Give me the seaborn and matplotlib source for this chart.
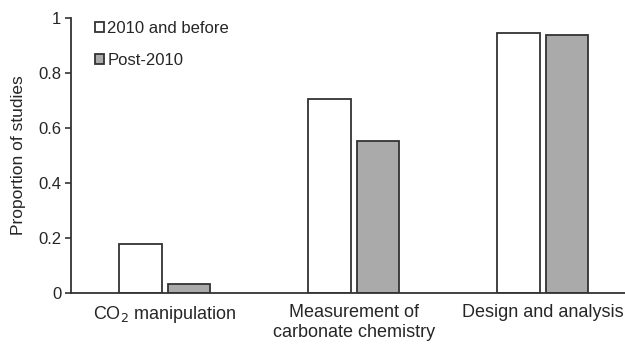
import pandas as pd
import numpy as np
import matplotlib.pyplot as plt
import seaborn as sns

# Dados
categories = ['CO$_2$ manipulation', 'Measurement of\ncarbonate chemistry', 'Design and analysis']
before_2010 = [0.179, 0.707, 0.944]
post_2010 = [0.033, 0.553, 0.939]
periods = ['2010 and before', 'Post-2010']

df = pd.DataFrame({
    'category': categories * 2,
    'proportion': before_2010 + post_2010,
    'period': [periods[0]] * 3 + [periods[1]] * 3,
})

sns.set_style('white')
plt.rcParams['font.family'] = ['Liberation Sans', 'DejaVu Sans']

fig = plt.figure(figsize=(6.25, 3.44), dpi=100)
ax = fig.add_axes([0.1136, 0.148, 0.8864, 0.8])

sns.barplot(data=df, x='category', y='proportion', hue='period',
            palette={periods[0]: 'white', periods[1]: '#aaaaaa'},
            edgecolor='#333333', linewidth=1.3, width=0.51, gap=0.12, ax=ax)

ax.set_xlim(-0.496, 2.435)
ax.set_ylim(0, 1)
ax.set_yticks([0, 0.2, 0.4, 0.6, 0.8, 1])
ax.set_yticklabels(['0', '0.2', '0.4', '0.6', '0.8', '1'], fontsize=12)
ax.tick_params(axis='y', direction='out', length=4, width=1.2, color='#333333', left=True, pad=3)
ax.tick_params(axis='x', length=0, labelsize=13, pad=8)
ax.set_xlabel('')
ax.set_ylabel('Proportion of studies', fontsize=12.5, labelpad=9)

sns.despine(ax=ax)
for s in ['left', 'bottom']:
    ax.spines[s].set_color('#333333')
    ax.spines[s].set_linewidth(1.3)

ax.legend(loc='upper left', bbox_to_anchor=(0.016, 1.045), frameon=False, fontsize=12,
          handlelength=0.55, handleheight=0.55, handletextpad=0.2, labelspacing=1.05)

fig.savefig('out.png', dpi=100)
